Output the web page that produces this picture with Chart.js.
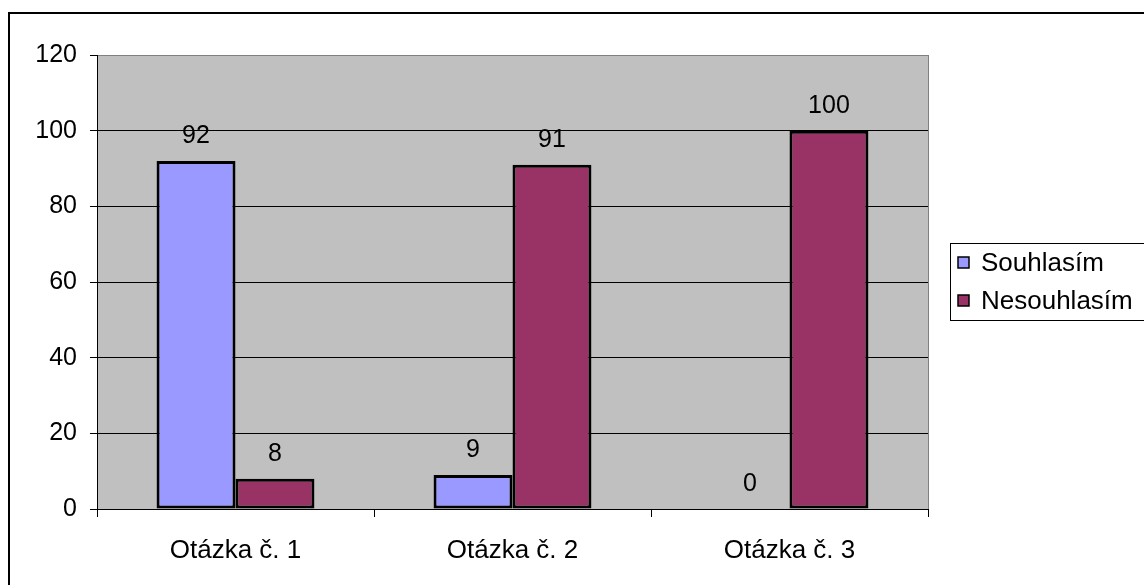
<!DOCTYPE html>
<html>
<head>
<meta charset="utf-8">
<script src="https://cdn.jsdelivr.net/npm/chart.js@4/dist/chart.umd.min.js"></script>
<style>
html,body{margin:0;padding:0;background:#fff;}
canvas{display:block;}
</style>
</head>
<body>
<canvas id="c" width="1144" height="585"></canvas>
<script>
const categories = ['Otázka č. 1', 'Otázka č. 2', 'Otázka č. 3'];
const seriesNames = ['Souhlasím', 'Nesouhlasím'];
const souhlasim = [92, 9, 0];
const nesouhlasim = [8, 91, 100];
const seriesColors = ['#9999FF', '#993366'];
const yTicks = [0, 20, 40, 60, 80, 100, 120];

const FONT = "'Liberation Sans', Arial, sans-serif";
Chart.defaults.font.family = FONT;
Chart.defaults.color = '#000';

const framePlugin = {
  id: 'frame',
  beforeDraw(chart) {
    const ctx = chart.ctx, a = chart.chartArea;
    ctx.save();
    ctx.fillStyle = '#fff';
    ctx.fillRect(0, 0, chart.width, chart.height);
    ctx.strokeStyle = '#000';
    ctx.lineWidth = 2;
    ctx.strokeRect(9, 13, 1300, 800);
    ctx.fillStyle = '#C0C0C0';
    ctx.fillRect(a.left, a.top, a.right - a.left, a.bottom - a.top);
    ctx.strokeStyle = '#808080';
    ctx.lineWidth = 1;
    ctx.strokeRect(a.left + 0.5, a.top + 0.5, a.right - a.left, a.bottom - a.top);
    ctx.restore();
  },
  afterDraw(chart) {
    const ctx = chart.ctx;
    ctx.save();
    ctx.strokeStyle = '#000';
    ctx.lineWidth = 1;
    ctx.strokeRect(950.5, 243.5, 400, 77);
    ctx.font = '26px ' + FONT;
    ctx.textBaseline = 'middle';
    ctx.textAlign = 'left';
    chart.data.datasets.forEach((ds, i) => {
      const cy = 263 + i * 38;
      ctx.fillStyle = ds.backgroundColor;
      ctx.fillRect(958, cy - 6, 11, 11);
      ctx.strokeStyle = '#000';
      ctx.lineWidth = 1.5;
      ctx.strokeRect(958, cy - 6, 11, 11);
      ctx.fillStyle = '#000';
      ctx.fillText(ds.label, 981, cy + 1);
    });
    ctx.restore();
  },
  afterDatasetsDraw(chart) {
    const ctx = chart.ctx;
    ctx.save();
    ctx.font = '25px ' + FONT;
    ctx.fillStyle = '#000';
    ctx.textAlign = 'center';
    ctx.textBaseline = 'alphabetic';
    chart.data.datasets.forEach((ds, i) => {
      const meta = chart.getDatasetMeta(i);
      meta.data.forEach((bar, j) => {
        ctx.fillText(String(ds.data[j]), bar.x, bar.y - 18);
      });
    });
    ctx.restore();
  }
};

new Chart(document.getElementById('c'), {
  type: 'bar',
  data: {
    labels: categories,
    datasets: [
      { label: seriesNames[0], data: souhlasim, backgroundColor: seriesColors[0] },
      { label: seriesNames[1], data: nesouhlasim, backgroundColor: seriesColors[1] }
    ]
  },
  options: {
    responsive: false,
    animation: false,
    devicePixelRatio: 1,
    layout: { padding: { left: 0, top: 55, right: 216, bottom: 0 } },
    datasets: {
      bar: {
        categoryPercentage: 0.57,
        barPercentage: 1.0,
        borderColor: '#000',
        borderWidth: (c) => (c.raw === 0 ? 0 : 3),
        borderSkipped: false
      }
    },
    plugins: {
      legend: { display: false },
      tooltip: { enabled: false }
    },
    scales: {
      x: {
        grid: { display: true, drawOnChartArea: false, offset: true, tickLength: 8, color: '#000', tickColor: '#000' },
        border: { display: true, color: '#000', width: 1 },
        ticks: { font: { size: 26 }, color: '#000', padding: 18 },
        afterFit(s) { s.height = 76; }
      },
      y: {
        min: 0,
        max: 120,
        afterBuildTicks(s) { s.ticks = yTicks.map(v => ({ value: v })); },
        grid: {
          drawOnChartArea: true,
          tickLength: 7,
          color: (c) => (c.tick && c.tick.value === 120 ? 'rgba(0,0,0,0)' : '#000'),
          tickColor: '#000'
        },
        border: { display: true, color: '#000', width: 1 },
        ticks: { font: { size: 25 }, color: '#000', padding: 13 },
        afterFit(s) { s.width = 97; }
      }
    }
  },
  plugins: [framePlugin]
});
</script>
</body>
</html>
